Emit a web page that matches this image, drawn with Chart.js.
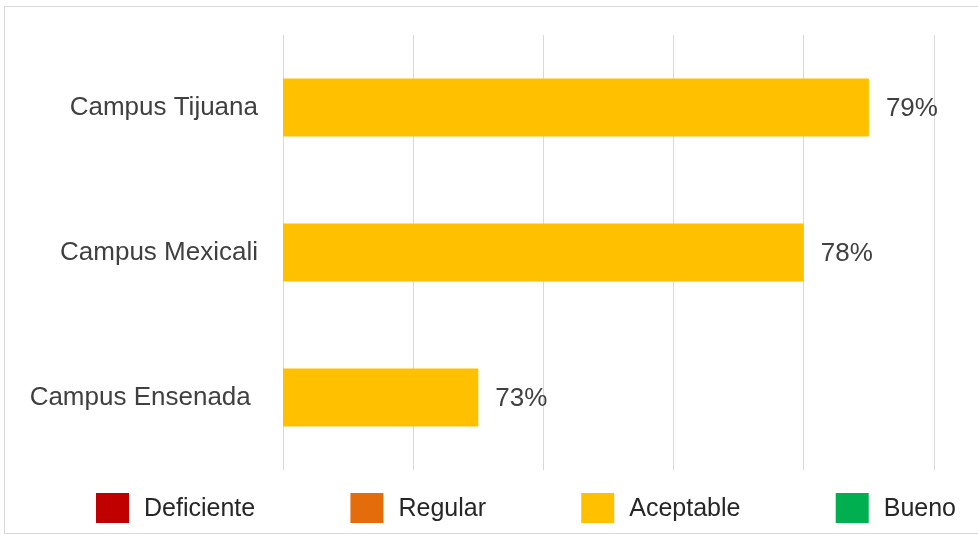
<!DOCTYPE html>
<html>
<head>
<meta charset="utf-8">
<script src="https://cdn.jsdelivr.net/npm/chart.js@4.4.0/dist/chart.umd.min.js"></script>
<style>
  html, body { margin: 0; padding: 0; background: #fff; }
  #wrap { position: relative; width: 978px; height: 535px; overflow: hidden; }
  #frame { position: absolute; left: 4px; top: 6px; width: 990px; height: 528px; border: 1px solid #d9d9d9; box-sizing: border-box; }
  #chart { position: absolute; left: 0; top: 0; }
</style>
</head>
<body>
<div id="wrap">
  <div id="frame"></div>
  <canvas id="chart" width="978" height="535"></canvas>
</div>
<script>
// data
const campuses = ["Campus Tijuana", "Campus Mexicali", "Campus Ensenada "];
const scores = [79, 78, 73];
const levels = ["Deficiente", "Regular", "Aceptable", "Bueno"];
const levelColors = ["#C00000", "#E46C0A", "#FFC000", "#00B050"];
const axisMin = 70;
const axisMax = 80;
const axisStep = 2;

const FONT = '"Liberation Sans", Arial, sans-serif';

// percent labels at the end of each bar
const valueLabels = {
  id: "valueLabels",
  afterDatasetsDraw(chart) {
    const ctx = chart.ctx;
    const meta = chart.getDatasetMeta(0);
    ctx.save();
    ctx.font = "26px " + FONT;
    ctx.fillStyle = "#404040";
    ctx.textBaseline = "middle";
    ctx.textAlign = "left";
    meta.data.forEach((bar, i) => {
      ctx.fillText(scores[i] + "%", bar.x + 17, bar.y + 1);
    });
    ctx.restore();
  }
};

// rating scale legend under the plot
const levelLegend = {
  id: "levelLegend",
  afterDraw(chart) {
    const ctx = chart.ctx;
    const boxW = 33, boxH = 30, gap = 15;
    const left = 96, right = 956;
    const y = chart.chartArea.bottom + 38;
    ctx.save();
    ctx.font = "25px " + FONT;
    ctx.textBaseline = "middle";
    const widths = levels.map(t => boxW + gap + ctx.measureText(t).width);
    const total = widths.reduce((a, b) => a + b, 0);
    const space = (right - left - total) / (levels.length - 1);
    let x = left;
    levels.forEach((t, i) => {
      ctx.fillStyle = levelColors[i];
      ctx.fillRect(x, y - boxH / 2, boxW, boxH);
      ctx.fillStyle = "#262626";
      ctx.fillText(t, x + boxW + gap, y + 1);
      x += widths[i] + space;
    });
    ctx.restore();
  }
};

new Chart(document.getElementById("chart"), {
  type: "bar",
  data: {
    labels: campuses,
    datasets: [{
      data: scores,
      backgroundColor: levelColors[2],
      categoryPercentage: 1,
      barPercentage: 0.4
    }]
  },
  options: {
    indexAxis: "y",
    responsive: false,
    animation: false,
    devicePixelRatio: 1,
    layout: { padding: { top: 35, right: 44, bottom: 65, left: 0 } },
    plugins: {
      legend: { display: false },
      tooltip: { enabled: false }
    },
    scales: {
      x: {
        min: axisMin,
        max: axisMax,
        ticks: { display: false, stepSize: axisStep },
        grid: { color: "#d9d9d9", lineWidth: 1, drawTicks: false },
        border: { display: false }
      },
      y: {
        grid: { display: false, drawTicks: false },
        border: { display: false },
        ticks: { color: "#404040", font: { family: FONT, size: 26 }, padding: 25 },
        afterFit(scale) {
          scale.width = 283;
          scale.paddingTop = 0;
          scale.paddingBottom = 0;
        }
      }
    }
  },
  plugins: [valueLabels, levelLegend]
});
</script>
</body>
</html>
